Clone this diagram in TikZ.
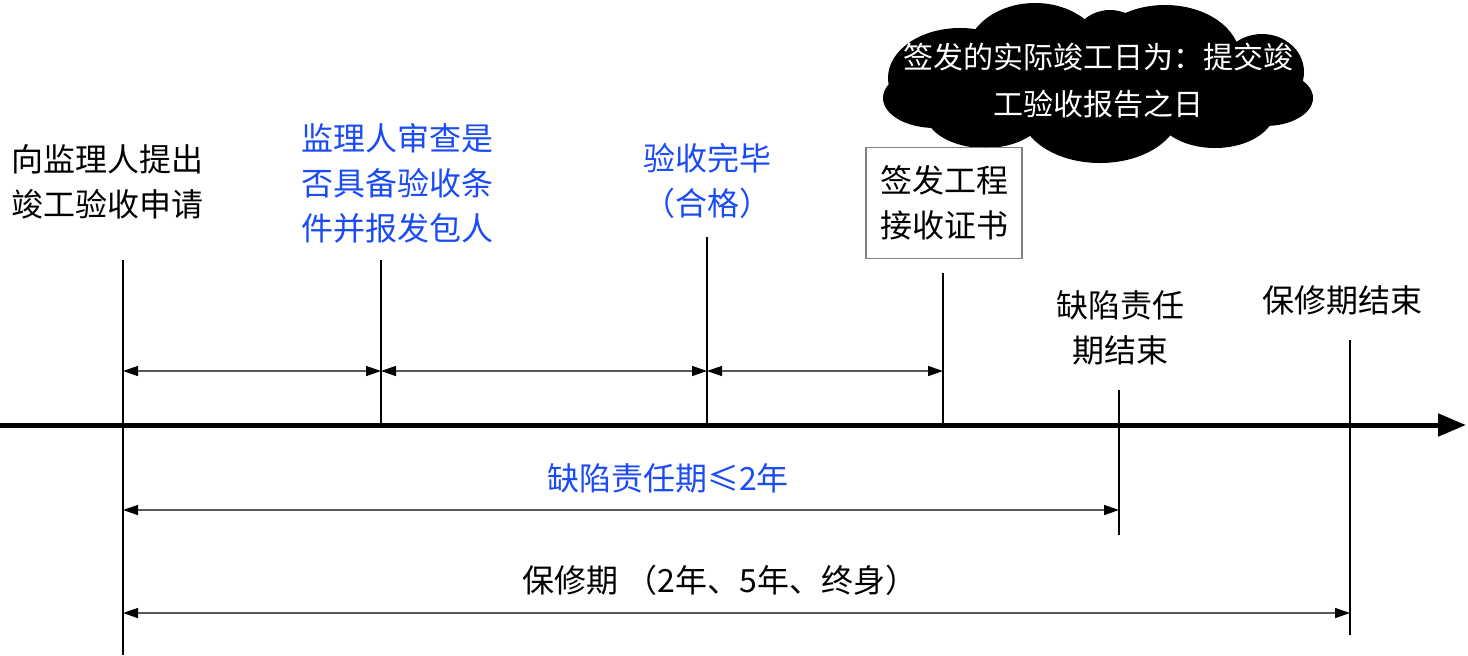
\documentclass[tikz,border=0pt]{standalone}
\usepackage{fontspec}
\setmainfont{Noto Sans CJK SC}
\usepackage{xcolor}
\usetikzlibrary{arrows.meta,positioning}
\definecolor{notecol}{HTML}{1A4BF5}
\definecolor{dimcol}{HTML}{5A5A5A}

\begin{document}
\begin{tikzpicture}[
  x=0.5pt, y=-0.5pt,
  lbl/.style={font=\fontsize{16}{22.5}\selectfont, align=center, inner sep=0pt},
  bluelbl/.style={lbl, text=notecol},
  notelbl/.style={lbl, text=white, font=\fontsize{15}{23.5}\selectfont},
  tickline/.style={line width=1pt},
  dimline/.style={{Triangle[length=7.5pt,width=5pt,color=black]}-{Triangle[length=7.5pt,width=5pt,color=black]},
                  draw=dimcol, line width=0.7pt},
  axisline/.style={-{Triangle[length=14pt,width=11pt]}, line width=2.5pt},
  certbox/.style={lbl, draw=gray, line width=0.6pt, minimum width=78pt, minimum height=55.5pt},
]
\useasboundingbox (0,0) rectangle (1468,655);

% time axis
\coordinate (start) at (0,425);
\coordinate (end)   at (1466,425);
\draw[axisline] (start) -- (end);

% tick lines
\coordinate (t1) at (123,260);  \coordinate (b1) at (123,655);
\coordinate (t2) at (381,260);  \coordinate (b2) at (381,425);
\coordinate (t3) at (707,237);  \coordinate (b3) at (707,425);
\coordinate (t4) at (943,273);  \coordinate (b4) at (943,425);
\coordinate (t5) at (1119,390); \coordinate (b5) at (1119,535);
\coordinate (t6) at (1350,340); \coordinate (b6) at (1350,635);
\foreach \i in {1,...,6} {
  \draw[tickline] (t\i) -- (b\i);
}

% dimension rows
\coordinate (r1) at (0,371);
\coordinate (r2) at (0,510);
\coordinate (r3) at (0,613);
\draw[dimline] (t1 |- r1) -- (t2 |- r1);
\draw[dimline] (t2 |- r1) -- (t3 |- r1);
\draw[dimline] (t3 |- r1) -- (t4 |- r1);
\draw[dimline] (t1 |- r2) -- (t5 |- r2);
\draw[dimline] (t1 |- r3) -- (t6 |- r3);

% cloud behind the note (puffs)
\fill[black] (1100,85) ellipse (175 and 45)
  (960,78)   ellipse (72 and 50)   % top left
  (935,98)   ellipse (52 and 30)   % left
  (1035,58)  ellipse (70 and 55)   % top
  (1110,50)  circle (40)
  (1165,58)  ellipse (75 and 53)
  (1262,72)  ellipse (42 and 38)   % top right
  (1265,98)  ellipse (48 and 28)   % right
  (985,112)  ellipse (60 and 36)   % bottom
  (1100,110) ellipse (80 and 53)
  (1215,110) ellipse (60 and 38);

% labels above the axis
\node[lbl]      (apply)  at (107,182)  {向监理人提出\\竣工验收申请};
\node[bluelbl]  (check)  at (397,183)  {监理人审查是\\否具备验收条\\件并报发包人};
\node[bluelbl]  (done)   at (707,181)  {验收完毕\\（合格）};
\node[notelbl]  (note)   at (1098,81)  {签发的实际竣工日为：提交竣\\工验收报告之日};
\node[certbox]  (cert)   at (944,203)  {签发工程\\接收证书};
\node[lbl]      (dlpend) at (1120,328) {缺陷责任\\期结束};
\node[lbl]      (wpend)  at (1342,300) {保修期结束};

% period labels
\node[bluelbl]  (dlp)    at (668,478)  {缺陷责任期≤2年};
\node[lbl]      (wp)     at (720,580)  {保修期 （2年、5年、终身）};

\end{tikzpicture}
\end{document}
